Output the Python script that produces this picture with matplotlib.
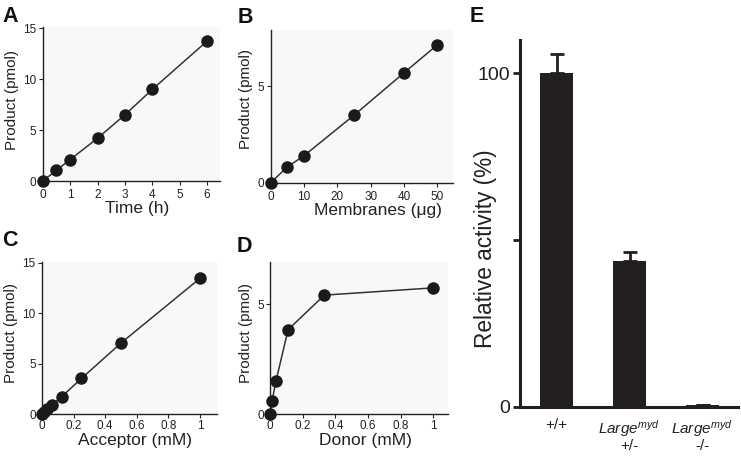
import matplotlib
matplotlib.use("Agg")
import matplotlib.pyplot as plt

plt.rcParams["font.family"] = ["Liberation Sans", "DejaVu Sans"]
plt.rcParams["mathtext.fontset"] = "custom"
plt.rcParams["mathtext.rm"] = "Liberation Sans"
plt.rcParams["mathtext.it"] = "Liberation Sans:italic"

# A - tempo
tempo_h = [0, 0.5, 1, 2, 3, 4, 6]
produto_tempo = [0, 1.05, 2.1, 4.2, 6.5, 9.0, 13.75]
erro_tempo = [0, 0, 0, 0, 0, 0, 0.4]

# B - membranas
membranas_ug = [0, 5, 10, 25, 40, 50]
produto_membranas = [0, 0.82, 1.4, 3.5, 5.7, 7.15]

# C - aceitador
aceitador_mm = [0, 0.0156, 0.03125, 0.0625, 0.125, 0.25, 0.5, 1]
produto_aceitador = [0, 0.2, 0.5, 0.9, 1.75, 3.55, 7.05, 13.45]

# D - doador
doador_mm = [0, 0.0123, 0.037, 0.111, 0.333, 1]
produto_doador = [0, 0.6, 1.53, 3.85, 5.42, 5.75]

# E - atividade relativa
genotipos = ["+/+", "$Large^{myd}$\n+/-", "$Large^{myd}$\n-/-"]
atividade = [100, 43.8, 0.5]
erro_atividade = [5.7, 2.5, 0]

W, H = 741, 457
fig = plt.figure(figsize=(W / 100, H / 100), dpi=100)
fig.patch.set_facecolor("white")


def eixo(esq, dir_, base, topo):
    # converte pixels para fracao da figura
    return fig.add_axes([esq / W, (H - base) / H, (dir_ - esq) / W, (base - topo) / H])


def painel_linha(ax, x, y, xlim, ylim, yticks, xticks, xticklabels,
                 xlabel, ylabel, xlab_pos, ylab_pos, xpad, yerr=None):
    ax.set_facecolor("#f8f8f8")
    ax.plot(x, y, color="#333333", linewidth=1.1, zorder=2, clip_on=False)
    if yerr is not None:
        ax.errorbar(x, y, yerr=yerr, fmt="none", ecolor="#1a1a1a",
                    elinewidth=1.2, capsize=2, zorder=2, clip_on=False)
    ax.plot(x, y, "o", color="#1a1a1a", markersize=9, markeredgewidth=0,
            zorder=3, clip_on=False)
    ax.set_xlim(*xlim)
    ax.set_ylim(*ylim)
    ax.set_yticks(yticks)
    ax.set_xticks(xticks)
    ax.set_xticklabels(xticklabels)
    for s in ["top", "right"]:
        ax.spines[s].set_visible(False)
    for s in ["left", "bottom"]:
        ax.spines[s].set_linewidth(1.0)
        ax.spines[s].set_color("#222222")
    ax.tick_params(direction="out", length=3, width=0.8, pad=1.5,
                   labelsize=8.5, colors="#222222")
    ax.tick_params(axis="x", pad=xpad)
    ax.set_xlabel(xlabel, fontsize=12.5, color="#222222", va="top")
    ax.set_ylabel(ylabel, fontsize=11, color="#222222")
    ax.xaxis.set_label_coords(*xlab_pos)
    ax.yaxis.set_label_coords(*ylab_pos)


# A
axA = eixo(42.7, 220, 181, 27.3)
painel_linha(axA, tempo_h, produto_tempo, (0, 6.47), (0, 15.1),
             [0, 5, 10, 15], range(7), [str(i) for i in range(7)],
             "Time (h)", "Product (pmol)", (0.535, -0.131), (-0.135, 0.53), 2.5,
             yerr=erro_tempo)

# B
axB = eixo(270.7, 453, 182.7, 30)
painel_linha(axB, membranas_ug, produto_membranas, (0, 54.7), (0, 7.92),
             [0, 5], [0, 10, 20, 30, 40, 50], ["0", "10", "20", "30", "40", "50"],
             "Membranes (\u03bcg)", "Product (pmol)", (0.59, -0.133), (-0.095, 0.545), 3)

# C
axC = eixo(42, 216.7, 414.3, 261.7)
painel_linha(axC, aceitador_mm, produto_aceitador, (0, 1.106), (0, 15.1),
             [0, 5, 10, 15], [0, 0.2, 0.4, 0.6, 0.8, 1],
             ["0", "0.2", "0.4", "0.6", "0.8", "1"],
             "Acceptor (mM)", "Product (pmol)", (0.532, -0.122), (-0.135, 0.533), 1)

# D
axD = eixo(270, 448.3, 414.3, 261.7)
painel_linha(axD, doador_mm, produto_doador, (0, 1.092), (0, 6.94),
             [0, 5], [0, 0.2, 0.4, 0.6, 0.8, 1],
             ["0", "0.2", "0.4", "0.6", "0.8", "1"],
             "Donor (mM)", "Product (pmol)", (0.536, -0.122), (-0.095, 0.533), 1)

# E - barras
axE = eixo(520, 738, 406.7, 40)
pos = range(len(genotipos))
axE.bar(pos, atividade, width=0.465, color="#231f20", zorder=2)
axE.errorbar(pos, atividade, yerr=[[0] * 3, erro_atividade], fmt="none",
             ecolor="#231f20", elinewidth=2, capsize=5, capthick=2, zorder=1)
axE.set_xlim(-0.5, 2.486)
axE.set_ylim(0, 110)
axE.set_yticks([0, 50, 100])
axE.set_yticklabels(["0", "", "100"])
axE.set_xticks(list(pos))
axE.set_xticklabels(genotipos, fontsize=11, linespacing=1.05)
for s in ["top", "right"]:
    axE.spines[s].set_visible(False)
for s in ["left", "bottom"]:
    axE.spines[s].set_linewidth(2.2)
    axE.spines[s].set_color("#231f20")
axE.tick_params(axis="y", direction="out", length=5, width=2, pad=2,
                labelsize=14, colors="#231f20")
axE.tick_params(axis="x", length=0, pad=8, colors="#231f20")
axE.set_ylabel("Relative activity (%)", fontsize=16.3, color="#231f20")
axE.yaxis.set_label_coords(-0.105, 0.43)

# letras dos paineis
for letra, x, y in [("A", 2, 22), ("B", 238, 23), ("C", 2, 246),
                    ("D", 237, 252), ("E", 470, 22)]:
    fig.text(x / W, 1 - y / H, letra, fontsize=15.5, fontweight="bold",
             color="#111111", va="baseline", ha="left")

fig.savefig("out.png", dpi=100)
